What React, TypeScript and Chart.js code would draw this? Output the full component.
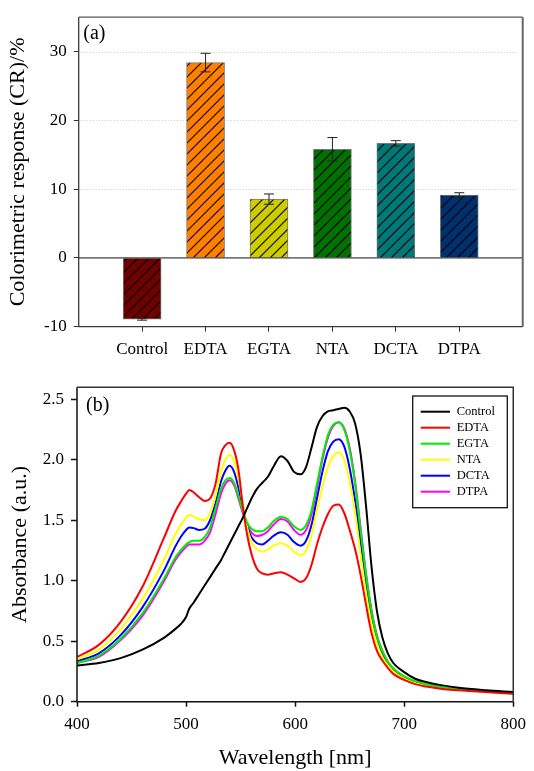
import React, { useEffect, useRef } from 'react';
import { Chart, registerables } from 'chart.js';

Chart.register(...registerables);

const FONT = "'Liberation Serif', 'Times New Roman', Times, serif";

// ---------- Panel (a) data ----------
const categories = ['Control', 'EDTA', 'EGTA', 'NTA', 'DCTA', 'DTPA'];
const crValues = [-8.9, 28.4, 8.55, 15.8, 16.65, 9.15];
const crErrors = [0.15, 1.35, 0.75, 1.7, 0.4, 0.33];
const barColors = ['#6e0000', '#ff8000', '#cccc00', '#007000', '#007878', '#00316e'];

// ---------- Panel (b) data ----------
const wavelengths = [400, 420, 440, 460, 480, 490, 495, 500, 503, 507, 512, 517, 522, 527, 532, 536, 540, 544, 548, 552, 556, 560, 565, 570, 575, 580, 587, 593, 599, 605, 610, 615, 620, 625, 630, 635, 640, 645, 650, 655, 660, 665, 670, 675, 680, 685, 690, 700, 710, 720, 735, 750, 775, 800];
const seriesNames = ['Control', 'EDTA', 'EGTA', 'NTA', 'DCTA', 'DTPA'];
const lineColors = ['#000000', '#ff0000', '#00ee00', '#ffff00', '#0000ff', '#ff00ff'];
const absControl = [0.30, 0.32, 0.36, 0.43, 0.53, 0.60, 0.64, 0.70, 0.77, 0.82, 0.89, 0.96, 1.03, 1.10, 1.17, 1.24, 1.31, 1.38, 1.45, 1.52, 1.60, 1.68, 1.76, 1.81, 1.86, 1.94, 2.03, 1.99, 1.90, 1.88, 1.94, 2.10, 2.27, 2.36, 2.40, 2.41, 2.42, 2.43, 2.40, 2.30, 2.05, 1.62, 1.12, 0.75, 0.53, 0.40, 0.32, 0.245, 0.19, 0.163, 0.135, 0.115, 0.095, 0.08];
const absEDTA = [0.37, 0.47, 0.66, 0.95, 1.36, 1.57, 1.65, 1.72, 1.75, 1.73, 1.69, 1.66, 1.68, 1.80, 2.05, 2.12, 2.14, 2.08, 1.92, 1.62, 1.38, 1.22, 1.10, 1.06, 1.05, 1.06, 1.07, 1.05, 1.02, 0.99, 1.02, 1.13, 1.30, 1.44, 1.55, 1.62, 1.63, 1.56, 1.42, 1.26, 1.05, 0.80, 0.57, 0.42, 0.34, 0.28, 0.23, 0.18, 0.145, 0.125, 0.105, 0.095, 0.08, 0.065];
const absEGTA = [0.32, 0.38, 0.52, 0.73, 1.02, 1.19, 1.25, 1.30, 1.32, 1.33, 1.33, 1.36, 1.44, 1.60, 1.76, 1.83, 1.85, 1.81, 1.70, 1.58, 1.48, 1.43, 1.41, 1.41, 1.44, 1.49, 1.53, 1.51, 1.45, 1.42, 1.46, 1.58, 1.80, 2.02, 2.20, 2.29, 2.31, 2.25, 2.08, 1.80, 1.42, 1.05, 0.75, 0.54, 0.42, 0.33, 0.275, 0.21, 0.17, 0.145, 0.12, 0.105, 0.088, 0.072];
const absNTA = [0.35, 0.43, 0.60, 0.85, 1.18, 1.38, 1.46, 1.52, 1.545, 1.53, 1.51, 1.50, 1.56, 1.70, 1.90, 2.00, 2.04, 1.99, 1.85, 1.64, 1.44, 1.32, 1.26, 1.24, 1.26, 1.29, 1.31, 1.29, 1.24, 1.21, 1.25, 1.38, 1.58, 1.78, 1.94, 2.03, 2.06, 2.00, 1.82, 1.56, 1.22, 0.90, 0.65, 0.48, 0.37, 0.30, 0.25, 0.19, 0.155, 0.135, 0.112, 0.098, 0.083, 0.068];
const absDCTA = [0.335, 0.40, 0.55, 0.78, 1.09, 1.28, 1.36, 1.42, 1.44, 1.435, 1.42, 1.43, 1.50, 1.64, 1.82, 1.91, 1.95, 1.90, 1.77, 1.60, 1.45, 1.36, 1.31, 1.30, 1.33, 1.37, 1.40, 1.38, 1.32, 1.29, 1.33, 1.46, 1.68, 1.90, 2.07, 2.15, 2.17, 2.11, 1.93, 1.66, 1.32, 0.98, 0.70, 0.51, 0.39, 0.31, 0.26, 0.195, 0.16, 0.14, 0.115, 0.10, 0.085, 0.07];
const absDTPA = [0.32, 0.37, 0.51, 0.71, 1.00, 1.17, 1.23, 1.28, 1.30, 1.30, 1.30, 1.33, 1.40, 1.55, 1.72, 1.80, 1.83, 1.79, 1.68, 1.56, 1.46, 1.40, 1.37, 1.38, 1.41, 1.46, 1.51, 1.49, 1.42, 1.38, 1.42, 1.55, 1.77, 2.00, 2.18, 2.28, 2.31, 2.26, 2.10, 1.82, 1.44, 1.06, 0.76, 0.55, 0.42, 0.33, 0.275, 0.205, 0.165, 0.14, 0.115, 0.10, 0.085, 0.07];
const absSeries = [absControl, absEDTA, absEGTA, absNTA, absDCTA, absDTPA];

function makeHatch(color: string): CanvasPattern | string {
  const s = 11;
  const c = document.createElement('canvas');
  c.width = s;
  c.height = s;
  const g = c.getContext('2d');
  if (!g) return color;
  g.fillStyle = color;
  g.fillRect(0, 0, s, s);
  g.strokeStyle = '#000';
  g.lineWidth = 1.1;
  g.beginPath();
  g.moveTo(0, s);
  g.lineTo(s, 0);
  g.moveTo(-2, 2);
  g.lineTo(2, -2);
  g.moveTo(s - 2, s + 2);
  g.lineTo(s + 2, s - 2);
  g.stroke();
  const p = g.createPattern(c, 'repeat');
  return p || color;
}

const panelAPlugin = {
  id: 'panelA',
  beforeDatasetsDraw(chart: any) {
    const { ctx, chartArea } = chart;
    const ys = chart.scales.y;
    ctx.save();
    ctx.strokeStyle = '#c4c4c4';
    ctx.lineWidth = 1;
    ctx.setLineDash([1, 2]);
    ys.ticks.forEach((t: any) => {
      if (t.value > 0) {
        const y = Math.round(ys.getPixelForValue(t.value)) + 0.5;
        ctx.beginPath();
        ctx.moveTo(chartArea.left + 2, y);
        ctx.lineTo(chartArea.right - 4, y);
        ctx.stroke();
      }
    });
    ctx.restore();
  },
  afterDatasetsDraw(chart: any) {
    const { ctx, chartArea } = chart;
    const xs = chart.scales.x;
    const ys = chart.scales.y;
    ctx.save();
    // zero line
    ctx.strokeStyle = '#111';
    ctx.lineWidth = 1;
    const y0 = ys.getPixelForValue(0);
    ctx.beginPath();
    ctx.moveTo(chartArea.left, y0);
    ctx.lineTo(chartArea.right, y0);
    ctx.stroke();
    // error bars
    ctx.strokeStyle = '#222';
    ctx.lineWidth = 1;
    crValues.forEach((v, i) => {
      const x = xs.getPixelForValue(i + 1);
      const e = crErrors[i];
      const yt = ys.getPixelForValue(v + e);
      const yb = ys.getPixelForValue(v - e);
      ctx.beginPath();
      ctx.moveTo(x, yt);
      ctx.lineTo(x, yb);
      ctx.moveTo(x - 5, yt);
      ctx.lineTo(x + 5, yt);
      ctx.moveTo(x - 5, yb);
      ctx.lineTo(x + 5, yb);
      ctx.stroke();
    });
    // frame
    const { left, right, top, bottom } = chartArea;
    ctx.lineWidth = 1.3;
    ctx.strokeStyle = '#3a3a3a';
    ctx.beginPath();
    ctx.moveTo(left, top);
    ctx.lineTo(left, bottom);
    ctx.lineTo(right, bottom);
    ctx.stroke();
    ctx.strokeStyle = '#555';
    ctx.beginPath();
    ctx.moveTo(left, top);
    ctx.lineTo(right, top);
    ctx.stroke();
    ctx.strokeStyle = '#666';
    ctx.lineWidth = 2;
    ctx.beginPath();
    ctx.moveTo(right, top);
    ctx.lineTo(right, bottom);
    ctx.stroke();
    // panel label
    ctx.fillStyle = '#000';
    ctx.font = `20px ${FONT}`;
    ctx.textBaseline = 'middle';
    ctx.textAlign = 'left';
    ctx.fillText('(a)', left + 4.6, top + 16.2);
    ctx.restore();
  },
};

const panelBPlugin = {
  id: 'panelB',
  afterDraw(chart: any) {
    const { ctx, chartArea } = chart;
    const { left, right, top, bottom } = chartArea;
    ctx.save();
    ctx.lineWidth = 1.5;
    ctx.strokeStyle = '#111';
    ctx.beginPath();
    ctx.moveTo(left, top);
    ctx.lineTo(left, bottom);
    ctx.lineTo(right, bottom);
    ctx.stroke();
    ctx.strokeStyle = '#333';
    ctx.beginPath();
    ctx.moveTo(left, top);
    ctx.lineTo(right, top);
    ctx.lineTo(right, bottom);
    ctx.stroke();
    ctx.fillStyle = '#000';
    ctx.font = `20px ${FONT}`;
    ctx.textBaseline = 'middle';
    ctx.textAlign = 'left';
    ctx.fillText('(b)', left + 9, top + 18.3);

    // legend box
    const bx = 412.7, by = 26, bw = 94.6, bh = 111.7;
    ctx.fillStyle = '#fff';
    ctx.fillRect(bx, by, bw, bh);
    ctx.strokeStyle = '#111';
    ctx.lineWidth = 1.3;
    ctx.strokeRect(bx, by, bw, bh);
    ctx.font = `12.5px ${FONT}`;
    ctx.textBaseline = 'middle';
    chart.data.datasets.forEach((ds: any, i: number) => {
      const y = by + 15.7 + i * 16;
      ctx.strokeStyle = ds.borderColor;
      ctx.lineWidth = 2;
      ctx.beginPath();
      ctx.moveTo(bx + 8, y);
      ctx.lineTo(bx + 37.3, y);
      ctx.stroke();
      ctx.fillStyle = '#000';
      ctx.fillText(ds.label, bx + 44, y + 0.5);
    });
    ctx.restore();
  },
};

function configA(): any {
  const patterns = barColors.map((c) => makeHatch(c));
  return {
    type: 'bar',
    data: {
      labels: ['', ...categories, ''],
      datasets: [
        {
          label: 'CR',
          data: [null, ...crValues, null],
          backgroundColor: ['rgba(0,0,0,0)', ...patterns, 'rgba(0,0,0,0)'],
          borderColor: '#777',
          borderWidth: 1,
          barThickness: 38,
        },
      ],
    },
    options: {
      animation: false,
      responsive: false,
      layout: { padding: { left: 0, right: 11.3, top: 6.3, bottom: 0 } },
      plugins: { legend: { display: false }, tooltip: { enabled: false } },
      scales: {
        x: {
          type: 'category',
          offset: false,
          grid: {
            offset: false,
            drawOnChartArea: false,
            drawTicks: true,
            tickLength: 5,
            tickWidth: 1,
            tickColor: (c: any) => (c.index === 0 || c.index === 7 ? 'rgba(0,0,0,0)' : '#333'),
          },
          border: { display: false },
          ticks: { font: { family: FONT, size: 17 }, color: '#000', padding: 8, maxRotation: 0, autoSkip: false },
          afterFit: (s: any) => {
            s.height = 43.3;
          },
        },
        y: {
          min: -10,
          max: 35,
          ticks: { stepSize: 10, includeBounds: false, font: { family: FONT, size: 17 }, color: '#000', padding: 7 },
          grid: { drawOnChartArea: false, drawTicks: true, tickLength: 5, tickWidth: 1, tickColor: '#333' },
          border: { display: false },
          title: {
            display: true,
            text: 'Colorimetric response (CR)/%',
            font: { family: FONT, size: 22 },
            color: '#000',
            padding: { top: 5, bottom: 0 },
          },
          afterFit: (s: any) => {
            s.width = 78.7;
          },
        },
      },
    },
    plugins: [panelAPlugin],
  };
}

function configB(): any {
  return {
    type: 'line',
    data: {
      datasets: seriesNames.map((name, k) => ({
        label: name,
        data: wavelengths.map((w, i) => ({ x: w, y: absSeries[k][i] })),
        borderColor: lineColors[k],
        backgroundColor: lineColors[k],
        borderWidth: 2,
        pointRadius: 0,
        fill: false,
        cubicInterpolationMode: 'monotone',
      })),
    },
    options: {
      animation: false,
      responsive: false,
      layout: { padding: { left: 0, right: 12.3, top: 12, bottom: 0 } },
      plugins: { legend: { display: false }, tooltip: { enabled: false } },
      scales: {
        x: {
          type: 'linear',
          min: 400,
          max: 800,
          ticks: { stepSize: 100, font: { family: FONT, size: 17 }, color: '#000', padding: 8, maxRotation: 0 },
          grid: { drawOnChartArea: false, drawTicks: true, tickLength: 5, tickWidth: 1.5, tickColor: '#111' },
          border: { display: false },
          title: {
            display: true,
            text: 'Wavelength [nm]',
            font: { family: FONT, size: 22 },
            color: '#000',
            padding: { top: 0, bottom: 0 },
          },
          afterFit: (s: any) => {
            s.height = 69.3;
          },
        },
        y: {
          min: 0,
          max: 2.6,
          ticks: {
            stepSize: 0.5,
            includeBounds: false,
            font: { family: FONT, size: 17 },
            color: '#000',
            padding: 7,
            callback: (v: any) => Number(v).toFixed(1),
          },
          grid: { drawOnChartArea: false, drawTicks: true, tickLength: 6, tickWidth: 1.5, tickColor: '#111' },
          border: { display: false },
          title: {
            display: true,
            text: 'Absorbance (a.u.)',
            font: { family: FONT, size: 22 },
            color: '#000',
            padding: { top: 7, bottom: 0 },
          },
          afterFit: (s: any) => {
            s.width = 77;
          },
        },
      },
    },
    plugins: [panelBPlugin],
  };
}

export default function App() {
  const refA = useRef<HTMLCanvasElement>(null);
  const refB = useRef<HTMLCanvasElement>(null);
  useEffect(() => {
    if (!refA.current || !refB.current) return;
    const a = new Chart(refA.current, configA());
    const b = new Chart(refB.current, configB());
    return () => {
      a.destroy();
      b.destroy();
    };
  }, []);
  return (
    <div style={{ position: 'absolute', left: 0, top: 0, width: 534, height: 771, background: '#fff' }}>
      <canvas
        ref={refA}
        width={534}
        height={370}
        style={{ position: 'absolute', left: 0, top: 0, width: 534, height: 370 }}
      />
      <canvas
        ref={refB}
        width={534}
        height={401}
        style={{ position: 'absolute', left: 0, top: 370, width: 534, height: 401 }}
      />
    </div>
  );
}
